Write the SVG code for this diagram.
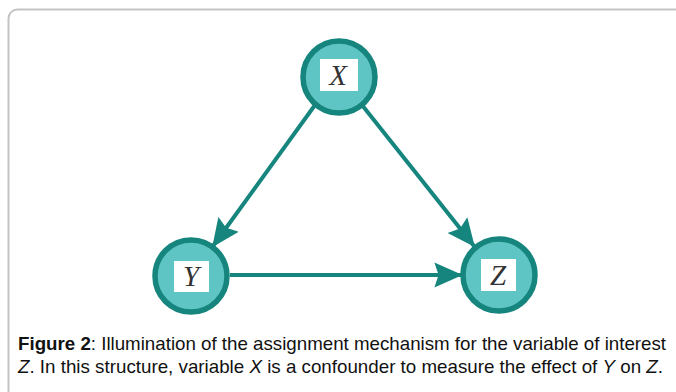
<svg xmlns="http://www.w3.org/2000/svg" width="676" height="392" viewBox="0 0 676 392">
<style>
.node circle{fill:#5ec4c4;stroke:#15857d;stroke-width:5.5}
.node rect{fill:#ffffff}
.node text{font-family:"Liberation Serif",serif;font-style:italic;font-size:29px;fill:#333;text-anchor:middle}
.edge{stroke:#15857d;stroke-width:4;fill:none}
.cap{font-family:"Liberation Sans Narrow","Liberation Sans",Arial,sans-serif;font-size:18.5px;fill:#111}
</style>
<defs>
<marker id="ah" viewBox="0 0 10 10" refX="9.5" refY="5" markerWidth="7" markerHeight="7" orient="auto" markerUnits="strokeWidth">
<path d="M0,0.5 L10,5 L0,9.5 L1.5,5 z" fill="#15857d"/>
</marker>
</defs>
<rect x="8.5" y="9.5" width="700" height="420" rx="9" fill="#fff" stroke="#c4c4c4" stroke-width="2"/>
<g id="connectors">
<line class="edge" x1="315" y1="105" x2="213" y2="246" marker-end="url(#ah)"/>
<line class="edge" x1="362" y1="105" x2="474" y2="246" marker-end="url(#ah)"/>
<line class="edge" x1="230" y1="275" x2="461" y2="275" marker-end="url(#ah)"/>
</g>
<g id="node-X" class="node">
<circle cx="339" cy="77" r="36"/>
<rect x="320" y="59" width="38" height="32"/>
<text x="338" y="85">X</text>
</g>
<g id="node-Y" class="node">
<circle cx="191" cy="276" r="36"/>
<rect x="174" y="261" width="35" height="31"/>
<text x="191" y="286">Y</text>
</g>
<g id="node-Z" class="node">
<circle cx="499" cy="275" r="36"/>
<rect x="481" y="259" width="35" height="32"/>
<text x="498" y="285">Z</text>
</g>
<text class="cap" x="18" y="350" textLength="648" lengthAdjust="spacingAndGlyphs"><tspan font-weight="bold">Figure 2</tspan>: Illumination of the assignment mechanism for the variable of interest</text>
<text class="cap" x="18" y="373" textLength="645" lengthAdjust="spacingAndGlyphs"><tspan font-style="italic">Z</tspan>. In this structure, variable <tspan font-style="italic">X</tspan> is a confounder to measure the effect of <tspan font-style="italic">Y</tspan> on <tspan font-style="italic">Z</tspan>.</text>
</svg>
